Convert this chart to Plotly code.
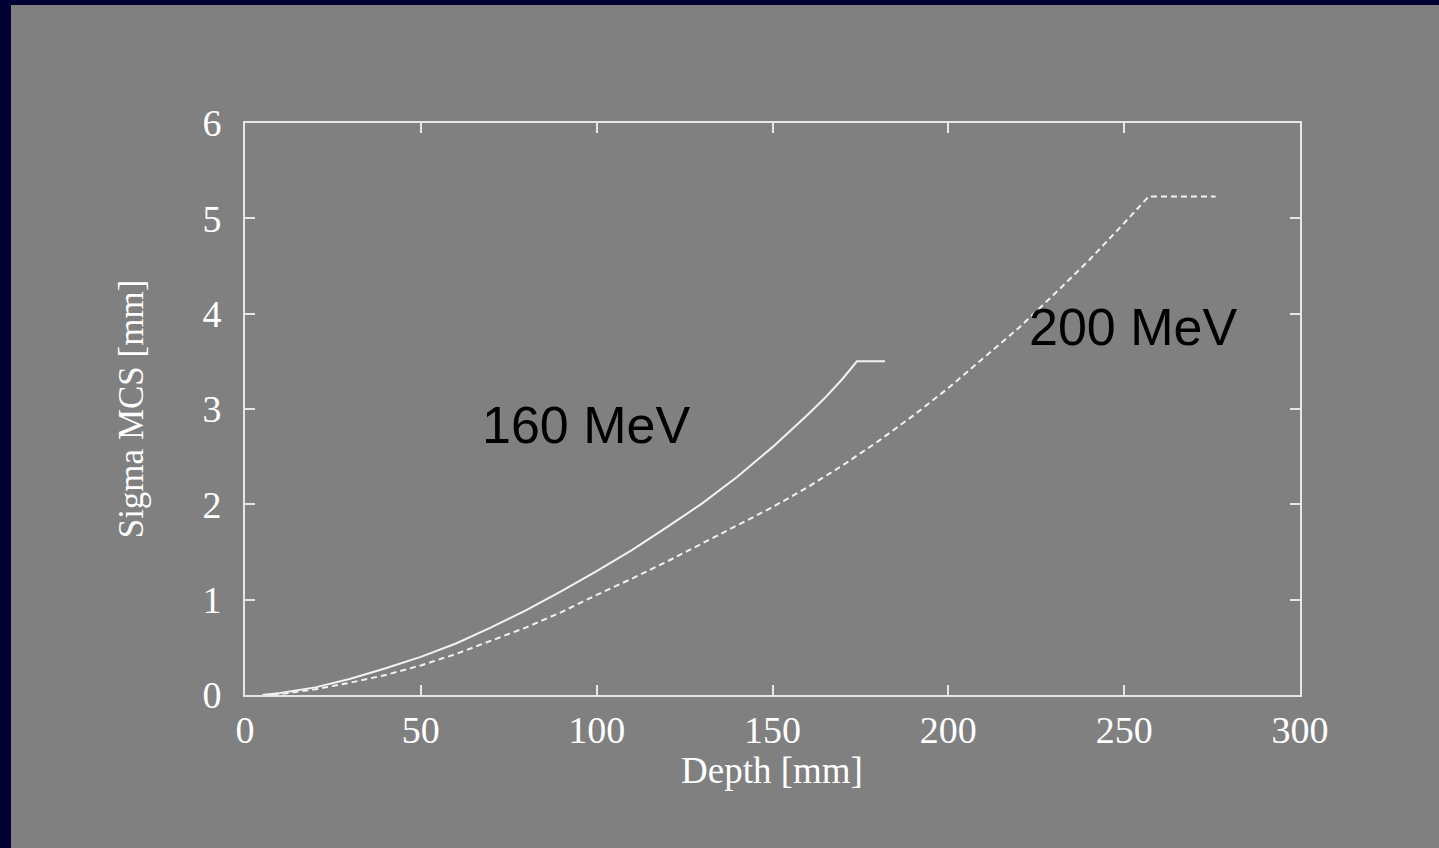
import plotly.graph_objects as go

# Data
depth_160 = [5, 10, 20, 30, 40, 50, 60, 70, 80, 90, 100, 110, 120, 130, 140, 150, 160, 165, 170, 174, 182]
sigma_160 = [0.0, 0.02, 0.08, 0.17, 0.28, 0.40, 0.54, 0.71, 0.89, 1.09, 1.30, 1.52, 1.76, 2.01, 2.29,
             2.60, 2.94, 3.12, 3.32, 3.50, 3.50]

depth_200 = [5, 10, 20, 30, 40, 50, 60, 70, 80, 90, 100, 110, 120, 130, 140, 150, 160, 170, 180, 190,
             200, 210, 220, 230, 240, 250, 257, 276]
sigma_200 = [0.0, 0.01, 0.06, 0.13, 0.21, 0.31, 0.43, 0.57, 0.71, 0.87, 1.05, 1.22, 1.40, 1.59, 1.78,
             1.97, 2.18, 2.41, 2.66, 2.93, 3.22, 3.53, 3.85, 4.20, 4.56, 4.95, 5.23, 5.23]

x_ticks = [0, 50, 100, 150, 200, 250, 300]
y_ticks = [0, 1, 2, 3, 4, 5, 6]

labels = ["160 MeV", "200 MeV"]
label_x = [97, 252.5]
label_y = [2.83, 3.86]

x_title = "Depth [mm]"
y_title = "Sigma MCS [mm]"

W, H = 1439, 848
L, R, T, B = 245, 139, 123, 153
pw, ph = W - L - R, H - T - B

def px_to_paper_x(px):
    return (px - L) / pw

def py_to_paper_y(py):
    return (H - B - py) / ph

fig = go.Figure()
fig.add_trace(go.Scatter(x=depth_160, y=sigma_160, mode="lines",
                         line=dict(color="#f2f2f2", width=2),
                         showlegend=False))
fig.add_trace(go.Scatter(x=depth_200, y=sigma_200, mode="lines",
                         line=dict(color="#f2f2f2", width=2, dash="6px,4px"),
                         showlegend=False))

for t, x, y in zip(labels, label_x, label_y):
    fig.add_annotation(x=x, y=y, text=t, showarrow=False,
                       font=dict(family="Liberation Sans, Arial", size=52, color="black"))

# x-axis title placed as paper annotation to match the reference position
fig.add_annotation(xref="paper", yref="paper", x=px_to_paper_x(772), y=py_to_paper_y(770),
                   xanchor="center", yanchor="middle", text=x_title, showarrow=False,
                   font=dict(family="Liberation Serif, Times New Roman", size=37, color="white"))

# gray panel over navy background
fig.add_shape(type="rect", xref="paper", yref="paper", layer="below",
              x0=px_to_paper_x(11), x1=px_to_paper_x(W + 5),
              y0=py_to_paper_y(H + 5), y1=py_to_paper_y(5),
              fillcolor="#808080", line=dict(width=0))

axis_common = dict(showgrid=False, zeroline=False, showline=True, mirror="allticks",
                   linecolor="#e6e6e6", linewidth=2, ticks="inside", ticklen=10,
                   tickwidth=2, tickcolor="#e6e6e6",
                   tickfont=dict(family="Liberation Serif, Times New Roman", size=38, color="white"))

fig.update_layout(
    width=W, height=H,
    margin=dict(l=L, r=R, t=T, b=B),
    paper_bgcolor="#000033",
    plot_bgcolor="#808080",
    xaxis=dict(range=[0, 300], tickvals=x_ticks, ticklabelstandoff=0, **axis_common),
    yaxis=dict(range=[0, 6], tickvals=y_ticks, ticklabelstandoff=14,
               title=dict(text=y_title, standoff=48,
                          font=dict(family="Liberation Serif, Times New Roman", size=35, color="white")),
               **axis_common),
)

fig.write_html("out.html")
